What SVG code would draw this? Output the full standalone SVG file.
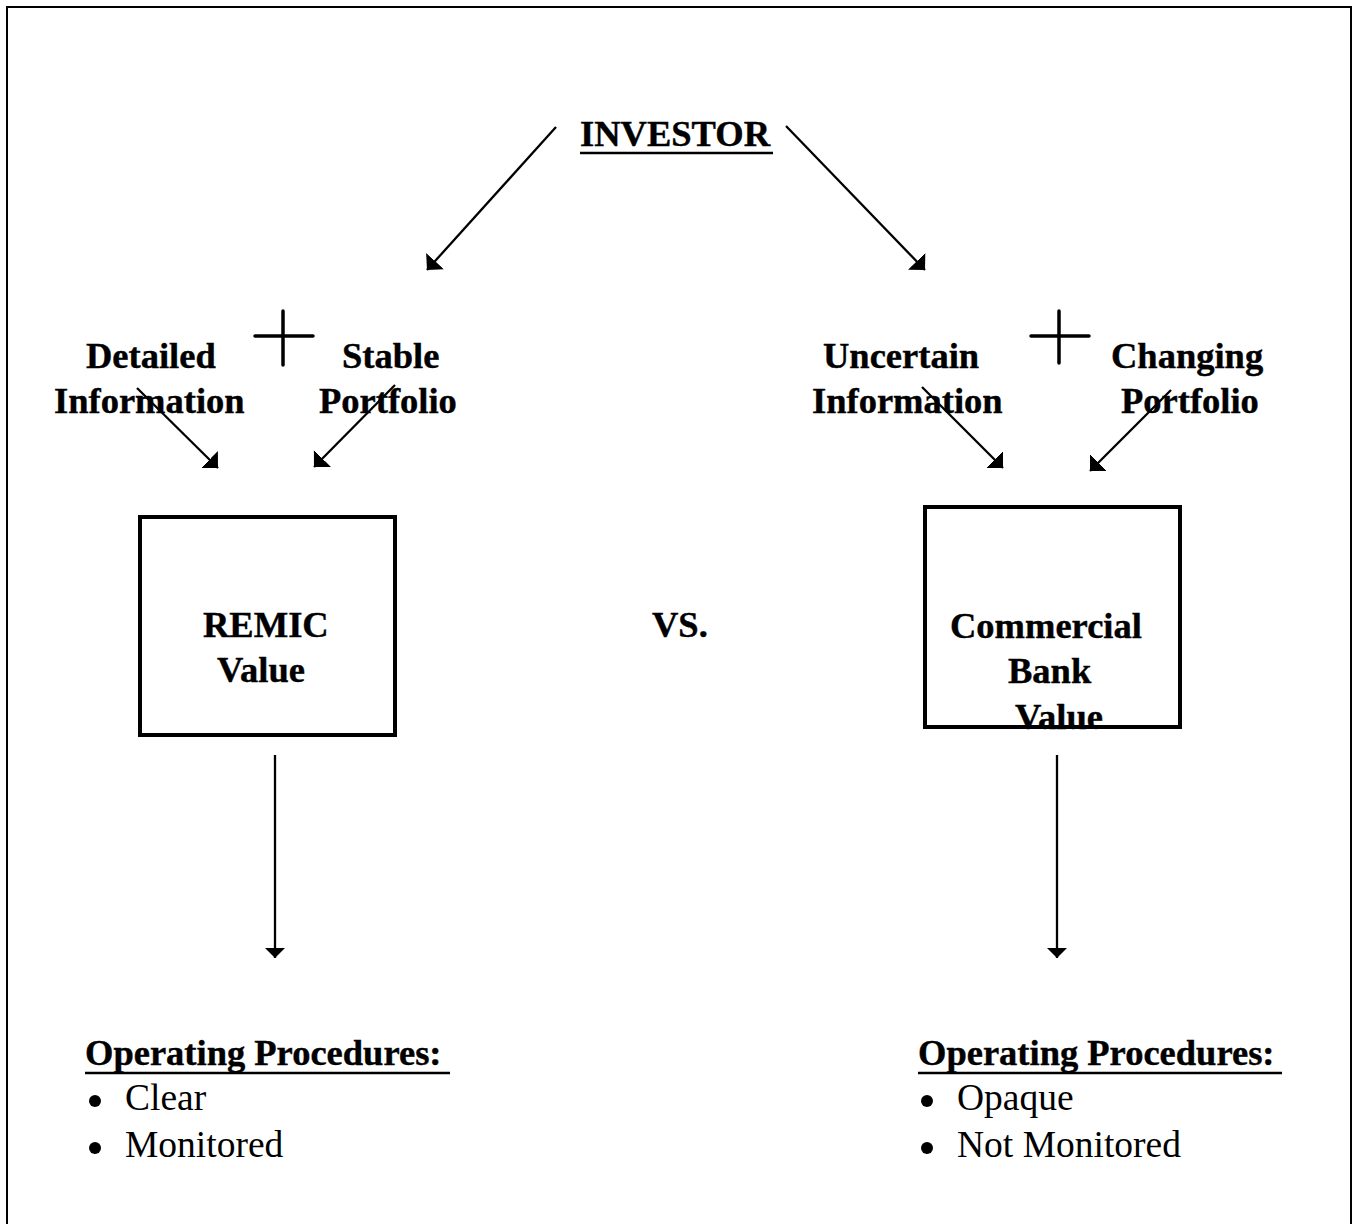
<svg xmlns="http://www.w3.org/2000/svg" width="1354" height="1224" viewBox="0 0 1354 1224">
<style>
.b{font-family:"Liberation Serif","Times New Roman",serif;font-weight:bold;font-size:36.5px;fill:#000;stroke:#000;stroke-width:0.4}
.r{font-family:"Liberation Serif","Times New Roman",serif;font-size:37.5px;fill:#000}
.ln{stroke:#000;stroke-width:2.3;fill:none}
.box{stroke:#000;stroke-width:4;fill:none}
.plus{stroke:#000;stroke-width:3.5;stroke-linecap:round;fill:none}
</style>
<defs>
<marker id="ah" markerUnits="userSpaceOnUse" markerWidth="13" markerHeight="26" refX="12" refY="12" orient="auto" viewBox="0 0 13 24">
<path d="M0,0 L12,12 L0,24 z" fill="#000"/>
</marker>
<marker id="av" markerUnits="userSpaceOnUse" markerWidth="12" markerHeight="22" refX="10" refY="10" orient="auto" viewBox="0 0 12 20">
<path d="M0,0 L10,10 L0,20 z" fill="#000"/>
</marker>
</defs>
<rect width="1354" height="1224" fill="#fff"/>
<path d="M7,1224 V7 H1351 V1224" stroke="#000" stroke-width="2" fill="none"/>

<g id="investor">
<text class="b" x="580" y="146" font-size="37">INVESTOR</text>
<line x1="580" y1="153" x2="773" y2="153" stroke="#000" stroke-width="2.5"/>
</g>

<g id="left-inputs">
<text class="b" x="86" y="368">Detailed</text>
<text class="b" x="54" y="413">Information</text>
<path class="plus" d="M255,336 H313 M283,311 V365"/>
<text class="b" x="342" y="368">Stable</text>
<text class="b" x="319" y="413">Portfolio</text>
</g>

<g id="right-inputs">
<text class="b" x="823" y="368">Uncertain</text>
<text class="b" x="812" y="413">Information</text>
<path class="plus" d="M1031,336 H1089 M1059,311 V363"/>
<text class="b" x="1111" y="368">Changing</text>
<text class="b" x="1121" y="413">Portfolio</text>
</g>

<g id="remic">
<text class="b" x="203" y="637">REMIC</text>
<text class="b" x="217" y="682">Value</text>
<rect class="box" x="140" y="517" width="255" height="218"/>
</g>

<g id="vs">
<text class="b" x="652" y="637">VS.</text>
</g>

<g id="bank">
<text class="b" x="950" y="638">Commercial</text>
<text class="b" x="1008" y="683">Bank</text>
<text class="b" x="1015" y="729">Value</text>
<rect class="box" x="925" y="507" width="255" height="220"/>
</g>

<g id="left-procedures">
<text class="b" x="85" y="1065">Operating Procedures:</text>
<line x1="85" y1="1073" x2="450" y2="1073" stroke="#000" stroke-width="2.5"/>
<circle cx="95" cy="1101" r="6"/>
<text class="r" x="125" y="1110">Clear</text>
<circle cx="95" cy="1148" r="6"/>
<text class="r" x="125" y="1157">Monitored</text>
</g>

<g id="right-procedures">
<text class="b" x="918" y="1065">Operating Procedures:</text>
<line x1="918" y1="1073" x2="1282" y2="1073" stroke="#000" stroke-width="2.5"/>
<circle cx="927" cy="1101" r="6"/>
<text class="r" x="957" y="1110">Opaque</text>
<circle cx="927" cy="1148" r="6"/>
<text class="r" x="957" y="1157">Not Monitored</text>
</g>

<g id="connectors">
<line class="ln" x1="556" y1="127" x2="427" y2="270" stroke-width="2.6" marker-end="url(#ah)"/>
<line class="ln" x1="786" y1="126" x2="925" y2="270" stroke-width="2.6" marker-end="url(#ah)"/>
<line class="ln" x1="137" y1="388" x2="218" y2="468" marker-end="url(#ah)"/>
<line class="ln" x1="395" y1="385" x2="314" y2="467" marker-end="url(#ah)"/>
<line class="ln" x1="922" y1="387" x2="1003" y2="468" marker-end="url(#ah)"/>
<line class="ln" x1="1171" y1="390" x2="1090" y2="471" marker-end="url(#ah)"/>
<line class="ln" x1="275" y1="755" x2="275" y2="958" stroke-width="1.6" marker-end="url(#av)"/>
<line class="ln" x1="1057" y1="755" x2="1057" y2="958" stroke-width="1.6" marker-end="url(#av)"/>
</g>
</svg>
